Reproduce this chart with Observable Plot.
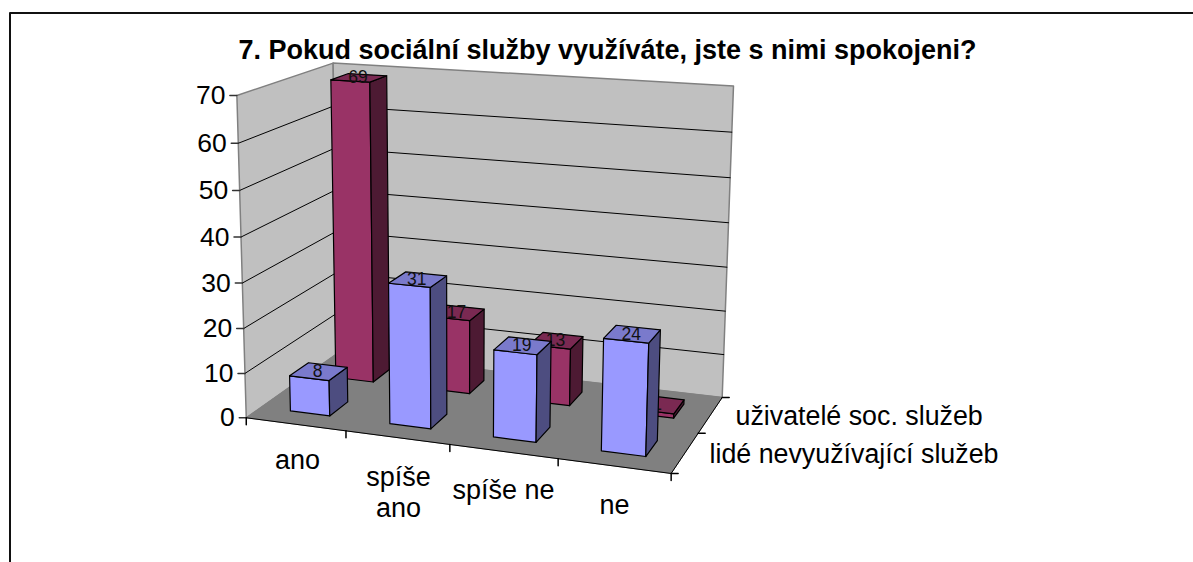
<!DOCTYPE html>
<html><head><meta charset="utf-8">
<script src="https://cdn.jsdelivr.net/npm/d3@7"></script>
<script src="https://cdn.jsdelivr.net/npm/@observablehq/plot@0.6"></script>
<style>html,body{margin:0;padding:0;background:#fff}svg{display:block}</style>
</head><body><div id="chart"></div>
<script>
const title = "7. Pokud sociální služby využíváte, jste s nimi spokojeni?";
const categories = ["ano", "spíše ano", "spíše ne", "ne"];
const categoryLines = [["ano"], ["spíše", "ano"], ["spíše ne"], ["ne"]];
const seriesNames = ["lidé nevyužívající služeb", "uživatelé soc. služeb"];
const nonUsers = [8, 31, 19, 24];
const users = [69, 17, 13, 1];
const valueTicks = [0, 10, 20, 30, 40, 50, 60, 70];
const maxValue = 70;

// Camera calibration: where cube points (u along categories, v into depth, w up) appear on screen
const calibration = [
  [0,0,0,249,416],[1,0,0,670,473],[0,1,0,337,353],[1,1,0,722,397],
  [0,0,1,236,95],[0,1,1,333,63],[1,1,1,733,85],
  [.25,0,0,347,431],[.5,0,0,450,445],[.75,0,0,558,459],
  [0,0,1/7,240.5,372],[0,0,2/7,240,328],[0,0,3/7,243,282],[0,0,4/7,242,237],[0,0,5/7,239,190],[0,0,6/7,238,143],
  [1,.5,0,697,432]
];
function solve(A, b) {
  const n = b.length, M = A.map((r, i) => [...r, b[i]]);
  for (let i = 0; i < n; i++) {
    let p = i; for (let k = i + 1; k < n; k++) if (Math.abs(M[k][i]) > Math.abs(M[p][i])) p = k;
    [M[i], M[p]] = [M[p], M[i]];
    for (let k = i + 1; k < n; k++) { const f = M[k][i] / M[i][i]; for (let j = i; j <= n; j++) M[k][j] -= f * M[i][j]; }
  }
  const x = Array(n).fill(0);
  for (let i = n - 1; i >= 0; i--) { let s = M[i][n]; for (let j = i + 1; j < n; j++) s -= M[i][j] * x[j]; x[i] = s / M[i][i]; }
  return x;
}
const rows = [], rhs = [];
for (const [u, v, w, X, Y] of calibration) {
  rows.push([u, v, w, 1, 0, 0, 0, 0, -X*u, -X*v, -X*w]); rhs.push(X);
  rows.push([0, 0, 0, 0, u, v, w, 1, -Y*u, -Y*v, -Y*w]); rhs.push(Y);
}
const AtA = Array.from({length: 11}, (_, i) => Array.from({length: 11}, (_, j) => d3.sum(rows, r => r[i]*r[j])));
const Atb = Array.from({length: 11}, (_, i) => d3.sum(rows, (r, k) => r[i]*rhs[k]));
const P = solve(AtA, Atb);
function project(u, v, w) {
  const d = P[8]*u + P[9]*v + P[10]*w + 1;
  return {x: (P[0]*u + P[1]*v + P[2]*w + P[3]) / d, y: (P[4]*u + P[5]*v + P[6]*w + P[7]) / d};
}
const face = (pts, fill, stroke, strokeWidth = 1) =>
  Plot.line([...pts, pts[0]].map(p => project(...p)), {x: "x", y: "y", fill, stroke, strokeWidth, curve: "linear"});
const seg = (a, b, stroke = "#000", strokeWidth = 1) =>
  Plot.line([project(...a), project(...b)], {x: "x", y: "y", stroke, strokeWidth});
const FONT = "Liberation Sans";
const label = (x, y, text, fontSize, extra = {}) =>
  Plot.text([{x, y, text}], {x: "x", y: "y", text: "text", fontSize, fontFamily: FONT, fill: "#000", ...extra});

function bar(cat, ser, value, c) {
  const u0 = (cat + .3) / 4, u1 = (cat + .7) / 4, v0 = (ser + .3) / 2, v1 = (ser + .7) / 2, w = value / maxValue;
  const top = project((u0 + u1) / 2, (v0 + v1) / 2, w);
  return [
    face([[u0,v0,0],[u1,v0,0],[u1,v0,w],[u0,v0,w]], c.front, "#000", 1.2),
    face([[u1,v0,0],[u1,v1,0],[u1,v1,w],[u1,v0,w]], c.side, "#000", 1.2),
    face([[u0,v0,w],[u1,v0,w],[u1,v1,w],[u0,v1,w]], c.top, "#000", 1.2),
    label(top.x - 1, top.y, String(value), 17.5, {fill: "#111"})
  ];
}
const blue = {front: "#9999ff", side: "#4d4d80", top: "#7a7acc"};
const red = {front: "#993366", side: "#4d1a33", top: "#7a2952"};

const marks = [
  // outer chart frame
  Plot.line([{x: 9.5, y: 562}, {x: 9.5, y: 12.5}, {x: 1193, y: 12.5}], {x: "x", y: "y", stroke: "#111", strokeWidth: 2}),
  face([[0,0,0],[0,1,0],[0,1,1],[0,0,1]], "#c0c0c0", "#808080", 1.5),
  face([[0,1,0],[1,1,0],[1,1,1],[0,1,1]], "#c0c0c0", "#808080", 1.5)
];
for (const t of valueTicks) {
  const w = t / maxValue;
  if (t > 0 && t < maxValue) { marks.push(seg([0,0,w],[0,1,w]), seg([0,1,w],[1,1,w])); }
  const p = project(0, 0, w);
  marks.push(Plot.line([{x: p.x - 7, y: p.y}, p], {x: "x", y: "y", stroke: "#333"}));
  marks.push(label(p.x - 11.5, p.y, String(t), 26.5, {textAnchor: "end"}));
}
marks.push(face([[0,0,0],[1,0,0],[1,1,0],[0,1,0]], "#808080", "#808080"));
marks.push(seg([0,0,0],[1,0,0]), seg([1,0,0],[1,1,0]));
for (let i = 0; i <= 4; i++) { const p = project(i/4, 0, 0); marks.push(Plot.line([p, {x: p.x, y: p.y + 7}], {x: "x", y: "y", stroke: "#000"})); }
for (let i = 0; i <= 2; i++) { const p = project(1, i/2, 0); marks.push(Plot.line([p, {x: p.x + 7, y: p.y}], {x: "x", y: "y", stroke: "#000"})); }

users.forEach((v, i) => marks.push(...bar(i, 1, v, red)));
nonUsers.forEach((v, i) => marks.push(...bar(i, 0, v, blue)));

marks.push(label(607, 50, title, 27, {fontWeight: "bold"}));
const catPos = [[297, 460], [398, 477], [503, 490], [614, 505]];
categoryLines.forEach((lines, i) => lines.forEach((l, j) => marks.push(label(catPos[i][0], catPos[i][1] + j * 31, l, 27))));
marks.push(label(735, 416, seriesNames[1], 26.8, {textAnchor: "start"}));
marks.push(label(709, 454, seriesNames[0], 26.8, {textAnchor: "start"}));

const chart = Plot.plot({
  width: 1193, height: 562, margin: 0,
  x: {domain: [0, 1193], range: [0, 1193], axis: null},
  y: {domain: [0, 562], range: [0, 562], axis: null},
  marks
});
document.getElementById("chart").append(chart);
</script></body></html>
